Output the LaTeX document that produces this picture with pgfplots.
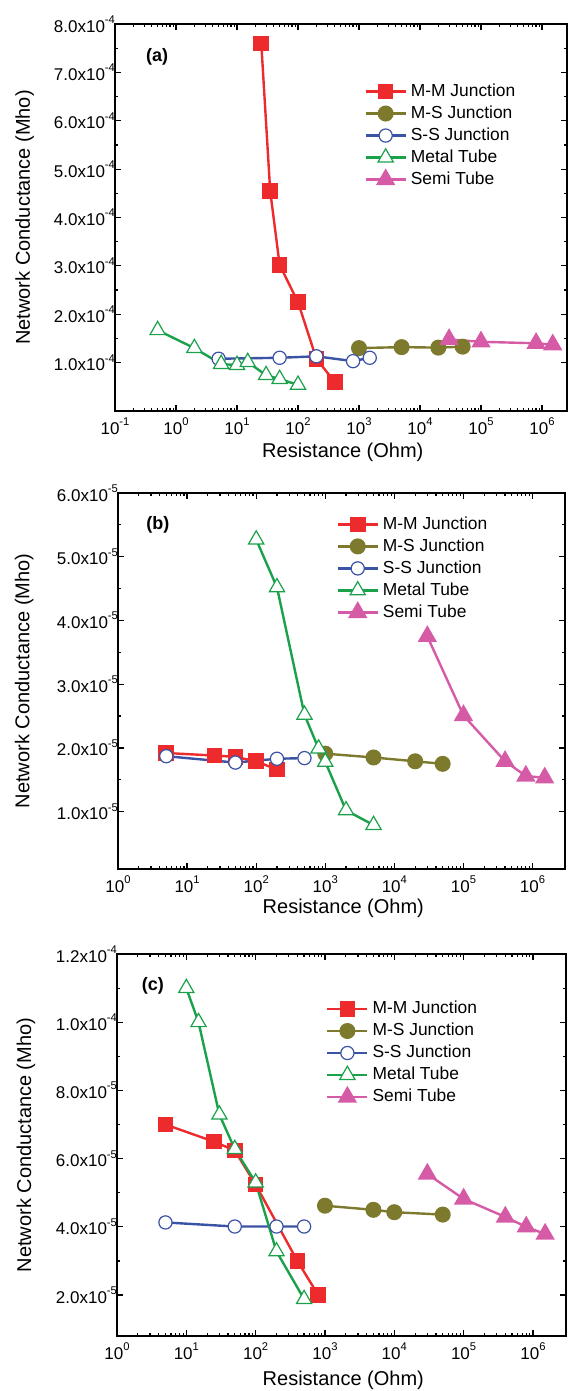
\documentclass[border=0pt]{standalone}
\usepackage{fontspec}
\setmainfont{Liberation Sans}
\usepackage{pgfplots}
\pgfplotsset{compat=1.18}
\definecolor{cMM}{HTML}{EE2B2C}
\definecolor{cMS}{HTML}{7D7A2E}
\definecolor{cSS}{HTML}{3B53A4}
\definecolor{cMT}{HTML}{1BA14B}
\definecolor{cST}{HTML}{D65BA6}
\newcommand{\sps}[1]{\raisebox{4.3pt}{\fontsize{5.6}{6}\selectfont #1}}

\pgfplotsset{
  legend image code/.code={\draw[mark repeat=2, mark phase=2, #1]
    plot coordinates {(0pt,0pt) (10pt,0pt) (20pt,0pt)};},
  netpanel/.style={
    scale only axis, anchor=north west,
    axis line style={line width=0.9pt},
    tick style={line width=0.6pt, black},
    tick align=inside, major tick length=3pt, minor tick length=1.7pt,
    scaled y ticks=false,
    ticklabel style={font=\fontsize{8.5}{10}\selectfont},
    yticklabel style={xshift=3.5pt},
    label style={font=\fontsize{10}{12}\selectfont},
    xlabel={Resistance (Ohm)},
    ylabel={Network Conductance (Mho)},
    minor y tick num=1,
    legend cell align=left,
    legend style={draw=none, fill=none, anchor=north west, inner sep=0pt,
      font=\fontsize{8.7}{10}\selectfont, row sep=-0.8pt},
  },
  sMM/.style={color=cMM, line width=1.2pt, mark=square*, mark size=3.3pt, mark options={solid}},
  sMS/.style={color=cMS, line width=1.2pt, mark=*, mark size=3.4pt, mark options={solid}},
  sSS/.style={color=cSS, line width=1.2pt, mark=*, mark size=3.3pt, mark options={solid, fill=white, line width=0.6pt}},
  sMT/.style={color=cMT, line width=1.2pt, mark=triangle*, mark size=4.4pt, mark options={solid, fill=white, line width=0.6pt}},
  sST/.style={color=cST, line width=1.2pt, mark=triangle*, mark size=4.4pt, mark options={solid}},
}

\begin{document}
\begin{tikzpicture}
\path[use as bounding box] (0,0) rectangle (284.5pt,-695.5pt);

% (a)
\begin{axis}[xmode=log, netpanel, at={(57.5pt,-12pt)}, width=226pt, height=193.5pt,
  xmin=0.1, xmax=2.57e6, ymin=0, ymax=8e-4,
  xtick={0.1,1,10,100,1000,1e4,1e5,1e6},
  xticklabels={10\sps{-1},10\sps{0},10\sps{1},10\sps{2},10\sps{3},10\sps{4},10\sps{5},10\sps{6}},
  ytick={1e-4,2e-4,3e-4,4e-4,5e-4,6e-4,7e-4,8e-4},
  yticklabels={1.0x10\sps{-4},2.0x10\sps{-4},3.0x10\sps{-4},4.0x10\sps{-4},5.0x10\sps{-4},6.0x10\sps{-4},7.0x10\sps{-4},8.0x10\sps{-4}},
  xlabel style={at={(axis description cs:0.504,-0.108)}, anchor=center},
  ylabel style={at={(axis description cs:-0.2,0.5)}, anchor=center},
  legend style={at={(rel axis cs:0.551,0.857)}},
]
\addplot[sMM] coordinates {(25,7.6e-4)(35,4.55e-4)(50,3.02e-4)(100,2.25e-4)(200,1.08e-4)(400,0.6e-4)};
\addplot[sMS] coordinates {(1000,1.30e-4)(5000,1.32e-4)(2e4,1.31e-4)(5e4,1.33e-4)};
\addplot[sSS] coordinates {(5,1.08e-4)(50,1.10e-4)(200,1.13e-4)(800,1.03e-4)(1500,1.10e-4)};
\addplot[sMT] coordinates {(0.5,1.67e-4)(2,1.30e-4)(5.5,0.97e-4)(10,0.95e-4)(15,1.01e-4)(30,0.74e-4)(50,0.66e-4)(100,0.54e-4)};
\addplot[sST] coordinates {(3e4,1.48e-4)(1e5,1.43e-4)(8e5,1.40e-4)(1.5e6,1.37e-4)};
\legend{M-M Junction,M-S Junction,S-S Junction,Metal Tube,Semi Tube}
\node[font=\bfseries\fontsize{9}{10}\selectfont] at (rel axis cs:0.093,0.915) {(a)};
\end{axis}

% (b)
\begin{axis}[xmode=log, netpanel, at={(59pt,-246.5pt)}, width=223.5pt, height=188pt,
  xmin=1, xmax=2.95e6, ymin=1e-6, ymax=6e-5,
  xtick={1,10,100,1000,1e4,1e5,1e6},
  xticklabels={10\sps{0},10\sps{1},10\sps{2},10\sps{3},10\sps{4},10\sps{5},10\sps{6}},
  ytick={1e-5,2e-5,3e-5,4e-5,5e-5,6e-5},
  yticklabels={1.0x10\sps{-5},2.0x10\sps{-5},3.0x10\sps{-5},4.0x10\sps{-5},5.0x10\sps{-5},6.0x10\sps{-5}},
  xlabel style={at={(axis description cs:0.504,-0.104)}, anchor=center},
  ylabel style={at={(axis description cs:-0.21,0.5)}, anchor=center},
  legend style={at={(rel axis cs:0.488,0.949)}},
]
\addplot[sMM] coordinates {(5,1.92e-5)(25,1.88e-5)(50,1.86e-5)(100,1.79e-5)(200,1.66e-5)};
\addplot[sMS] coordinates {(1000,1.91e-5)(5000,1.85e-5)(2e4,1.79e-5)(5e4,1.75e-5)};
\addplot[sSS] coordinates {(5,1.87e-5)(50,1.77e-5)(200,1.83e-5)(500,1.84e-5)};
\addplot[sMT] coordinates {(100,5.27e-5)(200,4.52e-5)(500,2.52e-5)(800,1.99e-5)(1000,1.78e-5)(2000,1.02e-5)(5000,0.79e-5)};
\addplot[sST] coordinates {(3e4,3.75e-5)(1e5,2.51e-5)(4e5,1.79e-5)(8e5,1.56e-5)(1.5e6,1.53e-5)};
\legend{M-M Junction,M-S Junction,S-S Junction,Metal Tube,Semi Tube}
\node[font=\bfseries\fontsize{9}{10}\selectfont] at (rel axis cs:0.089,0.915) {(b)};
\end{axis}

% (c)
\begin{axis}[xmode=log, netpanel, at={(58.5pt,-477pt)}, width=224.5pt, height=191pt,
  xmin=1, xmax=3e6, ymin=0.8e-5, ymax=1.2e-4,
  xtick={1,10,100,1000,1e4,1e5,1e6},
  xticklabels={10\sps{0},10\sps{1},10\sps{2},10\sps{3},10\sps{4},10\sps{5},10\sps{6}},
  ytick={2e-5,4e-5,6e-5,8e-5,1e-4,1.2e-4},
  yticklabels={2.0x10\sps{-5},4.0x10\sps{-5},6.0x10\sps{-5},8.0x10\sps{-5},1.0x10\sps{-4},1.2x10\sps{-4}},
  xlabel style={at={(axis description cs:0.504,-0.115)}, anchor=center},
  ylabel style={at={(axis description cs:-0.203,0.5)}, anchor=center},
  legend style={at={(rel axis cs:0.465,0.888)}},
]
\addplot[sMM] coordinates {(5,7.0e-5)(25,6.5e-5)(50,6.24e-5)(100,5.24e-5)(400,3.0e-5)(800,2.0e-5)};
\addplot[sMS] coordinates {(1000,4.62e-5)(5000,4.50e-5)(1e4,4.43e-5)(5e4,4.36e-5)};
\addplot[sSS] coordinates {(5,4.13e-5)(50,4.01e-5)(200,4.01e-5)(500,4.01e-5)};
\addplot[sMT] coordinates {(10,11.0e-5)(15,10.0e-5)(30,7.29e-5)(50,6.28e-5)(100,5.30e-5)(200,3.28e-5)(500,1.88e-5)};
\addplot[sST] coordinates {(3e4,5.55e-5)(1e5,4.82e-5)(4e5,4.29e-5)(8e5,4.0e-5)(1.5e6,3.79e-5)};
\legend{M-M Junction,M-S Junction,S-S Junction,Metal Tube,Semi Tube}
\node[font=\bfseries\fontsize{9}{10}\selectfont] at (rel axis cs:0.080,0.916) {(c)};
\end{axis}
\end{tikzpicture}
\end{document}
